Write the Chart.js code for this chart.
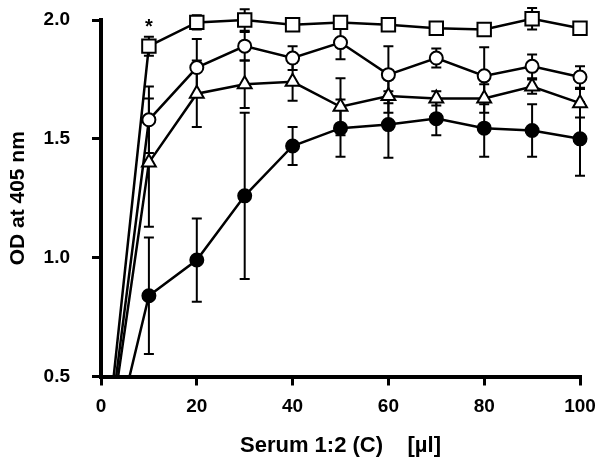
<!DOCTYPE html>
<html>
<head>
<meta charset="utf-8">
<script src="https://cdn.jsdelivr.net/npm/chart.js@4.4.0/dist/chart.umd.min.js"></script>
<style>
  html, body { margin: 0; padding: 0; background: #fff; }
  #chart { display: block; }
</style>
</head>
<body>
<canvas id="chart" width="600" height="468"></canvas>
<script>
// serum volume (ul) on the x axis
const serum = [0, 10, 20, 30, 40, 50, 60, 70, 80, 90, 100];

// OD at 405 nm, mean and error for each curve
const squareOD  = [0, 1.89, 1.99, 2.00, 1.98, 1.99, 1.98, 1.965, 1.96, 2.005, 1.965];
const squareErr = [0, 0.04, 0.03, 0.045, 0.02, 0.01, 0.01, 0.01, 0.02, 0.045, 0.01];

const circleOD  = [0, 1.58, 1.80, 1.89, 1.84, 1.905, 1.77, 1.84, 1.765, 1.805, 1.76];
const circleErr = [0, 0.14, 0.12, 0.06, 0.05, 0.07, 0.12, 0.04, 0.12, 0.05, 0.045];

const triangleOD  = [0, 1.40, 1.69, 1.73, 1.74, 1.635, 1.68, 1.67, 1.67, 1.72, 1.65];
const triangleErr = [0, 0.27, 0.14, 0.10, 0.08, 0.12, 0.07, 0.03, 0.06, 0.03, 0.06];

const filledOD  = [0, 0.84, 0.99, 1.26, 1.47, 1.545, 1.56, 1.585, 1.545, 1.535, 1.50];
const filledErr = [0, 0.245, 0.175, 0.35, 0.08, 0.12, 0.14, 0.07, 0.12, 0.11, 0.155];

const yTicks = [0.5, 1.0, 1.5, 2.0];
const xTicks = [0, 20, 40, 60, 80, 100];
const starIndex = 1; // asterisk above the first square

const FONT = "'Liberation Sans', Arial, Helvetica, sans-serif";
Chart.defaults.font.family = FONT;
Chart.defaults.color = "#000";

function toPoints(ys) {
  return serum.map((x, i) => ({ x: x, y: ys[i] }));
}

function makeSet(ys, err, style, fill, radius) {
  return {
    data: toPoints(ys),
    err: err,
    borderColor: "#000",
    borderWidth: 2.5,
    pointStyle: style,
    pointBackgroundColor: fill,
    pointBorderColor: "#000",
    pointBorderWidth: 2,
    pointRadius: ctx => (ctx.dataIndex === 0 ? 0 : radius),
    tension: 0,
    clip: { left: 0, top: 30, right: 20, bottom: 0 }
  };
}

// error bars drawn under the markers
const errorBars = {
  id: "errorBars",
  beforeDatasetsDraw(chart) {
    const ctx = chart.ctx;
    const xs = chart.scales.x, ys = chart.scales.y;
    ctx.save();
    ctx.strokeStyle = "#000";
    ctx.lineWidth = 2;
    chart.data.datasets.forEach(ds => {
      ds.data.forEach((p, i) => {
        const e = ds.err[i];
        if (!e) return;
        const px = xs.getPixelForValue(p.x);
        const top = ys.getPixelForValue(p.y + e);
        const bot = ys.getPixelForValue(p.y - e);
        ctx.beginPath();
        ctx.moveTo(px, top); ctx.lineTo(px, bot);
        ctx.moveTo(px - 5, top); ctx.lineTo(px + 5, top);
        ctx.moveTo(px - 5, bot); ctx.lineTo(px + 5, bot);
        ctx.stroke();
      });
    });
    ctx.restore();
  }
};

const asterisk = {
  id: "asterisk",
  afterDraw(chart) {
    const ctx = chart.ctx;
    const px = chart.scales.x.getPixelForValue(serum[starIndex]);
    const py = chart.scales.y.getPixelForValue(squareOD[starIndex] + squareErr[starIndex]);
    ctx.save();
    ctx.font = "bold 20px " + FONT;
    ctx.fillStyle = "#000";
    ctx.textAlign = "center";
    ctx.textBaseline = "middle";
    ctx.fillText("*", px, py - 9);
    ctx.restore();
  }
};

new Chart(document.getElementById("chart"), {
  type: "line",
  data: {
    datasets: [
      makeSet(filledOD, filledErr, "circle", "#000", 6.5),
      makeSet(triangleOD, triangleErr, "triangle", "#fff", 8),
      makeSet(circleOD, circleErr, "circle", "#fff", 6.5),
      makeSet(squareOD, squareErr, "rect", "#fff", 9.5)
    ]
  },
  options: {
    responsive: false,
    animation: false,
    layout: { padding: { top: 20, right: 20, left: 0, bottom: 0 } },
    plugins: { legend: { display: false }, tooltip: { enabled: false } },
    scales: {
      x: {
        type: "linear",
        min: 0,
        max: 100,
        afterBuildTicks: s => { s.ticks = xTicks.map(v => ({ value: v })); },
        afterFit: s => { s.height = 91.5; s.paddingLeft = 0; s.paddingRight = 0; },
        ticks: { font: { size: 19, weight: "bold" }, color: "#000", padding: 10 },
        grid: { drawOnChartArea: false, drawTicks: true, tickLength: 9, color: "#000", lineWidth: 3 },
        border: { display: true, color: "#000", width: 4 },
        title: {
          display: true,
          text: "Serum 1:2 (C)    [\u00b5l]",
          font: { size: 22, weight: "bold" },
          color: "#000",
          padding: { top: 0, bottom: 9 }
        }
      },
      y: {
        type: "linear",
        min: 0.5,
        max: 2.0,
        afterBuildTicks: s => { s.ticks = yTicks.map(v => ({ value: v })); },
        afterFit: s => { s.width = 101; s.paddingTop = 0; s.paddingBottom = 0; },
        ticks: { font: { size: 19, weight: "bold" }, color: "#000", padding: 22, callback: v => v.toFixed(1) },
        grid: { drawOnChartArea: false, drawTicks: true, tickLength: 9, color: "#000", lineWidth: 3 },
        border: { display: true, color: "#000", width: 4 },
        title: {
          display: true,
          text: "OD at 405 nm",
          font: { size: 21, weight: "bold" },
          color: "#000",
          padding: { top: 6, bottom: 0 }
        }
      }
    }
  },
  plugins: [errorBars, asterisk]
});
</script>
</body>
</html>
